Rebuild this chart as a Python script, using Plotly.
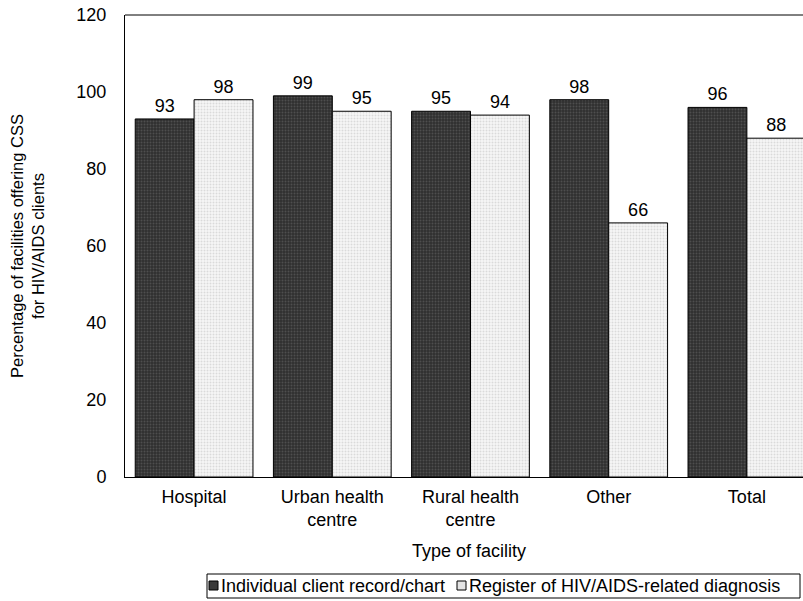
import plotly.graph_objects as go

categories = ["Hospital", "Urban health<br>centre", "Rural health<br>centre", "Other", "Total"]
individual_record = [93, 99, 95, 98, 96]
hiv_register = [98, 95, 94, 66, 88]
series_names = ["Individual client record/chart", "Register of HIV/AIDS-related diagnosis"]
x_title = "Type of facility"
y_title = "Percentage of facilities offering CSS<br>for HIV/AIDS clients"

FONT = "Liberation Sans, Arial, sans-serif"
W, H = 803, 601
L, T, B = 125, 15, 124          # plot margins in px
PW, PH = W - L, H - T - B       # plot area size


def px(x):
    """Horizontal pixel position -> paper fraction."""
    return (x - L) / PW


def py(y):
    """Vertical pixel position (from top) -> paper fraction."""
    return (H - B - y) / PH


DARK = dict(color="#333333", line=dict(color="black", width=1),
            pattern=dict(shape=".", bgcolor="#2f2f2f", fgcolor="#6e6e6e",
                         size=3, solidity=0.35))
LIGHT = dict(color="#eeeeee", line=dict(color="black", width=1),
             pattern=dict(shape=".", bgcolor="#f6f6f6", fgcolor="#bdbdbd",
                          size=3, solidity=0.35))

fig = go.Figure()
for vals, name, marker in ((individual_record, series_names[0], DARK),
                           (hiv_register, series_names[1], LIGHT)):
    fig.add_trace(go.Bar(
        x=categories, y=vals, name=name, marker=marker,
        text=vals, textposition="outside",
        textfont=dict(size=18, color="black"),
        cliponaxis=False, showlegend=False,
    ))

# Legend drawn by hand so the swatches sit tight against their labels
shapes = [
    dict(type="line", xref="paper", yref="paper", x0=0, x1=1.05, y0=1, y1=1,
         line=dict(color="black", width=1)),
    dict(type="rect", xref="paper", yref="paper",
         x0=px(207), x1=px(800), y0=py(574), y1=py(598),
         line=dict(color="black", width=1), fillcolor="white"),
    dict(type="rect", xref="paper", yref="paper",
         x0=px(209), x1=px(218), y0=py(581), y1=py(590),
         line=dict(color="black", width=1), fillcolor="#3a3a3a"),
    dict(type="rect", xref="paper", yref="paper",
         x0=px(457), x1=px(466), y0=py(581), y1=py(590),
         line=dict(color="black", width=1), fillcolor="#e4e4e4"),
]
annotations = [
    dict(text=series_names[0], xref="paper", yref="paper", x=px(219), y=py(586),
         xanchor="left", yanchor="middle", showarrow=False, font=dict(size=18)),
    dict(text=series_names[1], xref="paper", yref="paper", x=px(467), y=py(586),
         xanchor="left", yanchor="middle", showarrow=False, font=dict(size=18)),
    dict(text=x_title, xref="paper", yref="paper", x=px(469), y=py(551),
         xanchor="center", yanchor="middle", showarrow=False, font=dict(size=18)),
]

fig.update_layout(
    width=W, height=H,
    margin=dict(l=L, r=0, t=T, b=B),
    paper_bgcolor="white", plot_bgcolor="white",
    font=dict(family=FONT, size=18, color="black"),
    barmode="group", bargap=0.148, bargroupgap=0,
    shapes=shapes, annotations=annotations,
)
fig.update_xaxes(
    range=[-0.5, 4.406], showline=True, linecolor="black", linewidth=1,
    ticks="", showgrid=False, tickfont=dict(size=18), ticklabelstandoff=3,
)
fig.update_yaxes(
    range=[0, 120], dtick=20, showline=True, linecolor="black", linewidth=1,
    ticks="", showgrid=False, zeroline=False, tickfont=dict(size=18),
    ticklabelstandoff=14,
    title=dict(text=y_title, font=dict(size=16.5), standoff=27),
)

fig.write_html("out.html")
